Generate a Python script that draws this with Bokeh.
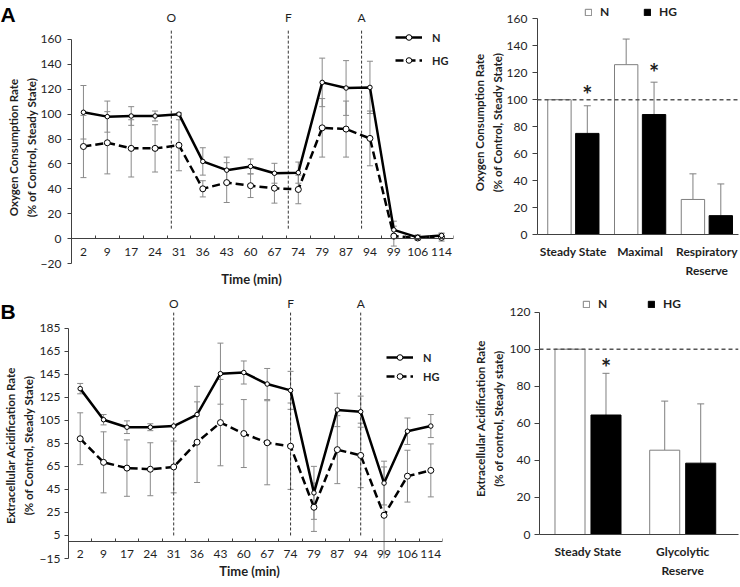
from bokeh.plotting import figure
from bokeh.models import (ColumnDataSource, Range1d, FixedTicker, Whisker, TeeHead,
                          Span, Legend, LegendItem, GridBox)
from bokeh.embed import file_html
from bokeh.resources import INLINE
from bokeh.transform import dodge
from bokeh.core.properties import value
import math

# ---------------- data ----------------
times = ["2", "9", "17", "24", "31", "36", "43", "60", "67", "74", "79", "87", "94", "99", "106", "114"]

ocr_n = [101.5, 98, 98.5, 98.5, 100, 62, 55, 58, 52.5, 53, 125.5, 121, 121.5, 7, 1, 2.5]
ocr_n_err = [21.5, 12.5, 7.5, 4, 1, 11, 10.5, 6, 8, 8.5, 19.5, 22, 21, 7, 2, 2]
ocr_hg = [74, 77, 72.5, 72.5, 75, 40, 45, 42.5, 40.5, 39.5, 89, 88, 80.5, 2, 0.5, 1]
ocr_hg_err = [25, 25, 23, 19, 20.5, 6.5, 16, 9.5, 12, 11.5, 23.5, 22.5, 22, 8, 1.5, 3]

ecar_n = [132.5, 105.5, 99, 99, 100, 110, 145.5, 146.5, 136.5, 131, 42, 114, 112.5, 50.5, 95.5, 100]
ecar_n_err = [4.5, 4.5, 5.5, 3, 0.5, 24.5, 26.5, 10, 13.5, 16.5, 23, 14.5, 13.5, 19, 11.5, 10]
ecar_hg = [89, 68.5, 63.5, 62.5, 64.5, 86, 103, 93.5, 85.5, 82.5, 29.5, 79.5, 74.5, 22.5, 56.5, 61.5]
ecar_hg_err = [22.5, 26.5, 24.5, 23, 22.5, 35, 37.5, 29.5, 36.5, 37.5, 21, 29.5, 28, 42, 22.5, 23]

event_labels = ["O", "F", "A"]
ocr_event_x = [4.18, 9.08, 12.15]      # position on the category axis
ecar_event_x = [4.5, 9.5, 12.5]

ocr_yticks = [-20, 0, 20, 40, 60, 80, 100, 120, 140, 160]
ecar_yticks = [-15, 5, 25, 45, 65, 85, 105, 125, 145, 165, 185]

ocr_groups = ["Steady State", "Maximal", "Respiratory\nReserve"]
ocr_bar_n = [100, 126, 26]
ocr_bar_n_err = [0, 19, 19]
ocr_bar_hg = [75, 89, 14]
ocr_bar_hg_err = [20.5, 24, 23.5]
ocr_star_idx = [0, 1]
ocr_star_y = [103.5, 120.5]
ocr_bar_yticks = [0, 20, 40, 60, 80, 100, 120, 140, 160]

ecar_groups = ["Steady State", "Glycolytic\nReserve"]
ecar_bar_n = [100, 45.5]
ecar_bar_n_err = [0, 26.5]
ecar_bar_hg = [64.5, 38.5]
ecar_bar_hg_err = [22.5, 32]
ecar_star_idx = [0]
ecar_star_y = [90]
ecar_bar_yticks = [0, 20, 40, 60, 80, 100, 120]

# page-level texts (panel letters, axis titles), placed in page pixels
panel_letters = ["A", "B"]
panel_letter_x = [0, 0]
panel_letter_y = [14, 311]
xtitle_text = ["Time (min)", "Time (min)"]
xtitle_x = [251, 249]
xtitle_y = [278, 570]
ytitle_text = ["Oxygen Consumption Rate\n(% of Control, Steady State)",
               "Extracellular Acidification Rate\n(% of Control, Steady State)",
               "Oxygen Consumption Rate\n(% of Control, Steady State)",
               "Extracellular Acidification Rate\n(% of control, Steady state)"]
ytitle_x = [22, 19, 488, 489]
ytitle_y = [147, 445, 122, 418]

# ---------------- style ----------------
FONT = "Lato"
TXT = "#1f1f1f"
AXC = "#404040"
ERR = "#8a8a8a"


def base_fig(width, height, bl, br, bt, bb, xr, yr):
    p = figure(width=width, height=height, x_range=xr, y_range=yr,
               output_backend="svg", toolbar_location=None,
               min_border_left=bl, min_border_right=br,
               min_border_top=bt, min_border_bottom=bb)
    p.outline_line_color = None
    p.xgrid.visible = False
    p.ygrid.visible = False
    p.background_fill_color = "white"
    p.border_fill_color = "white"
    if "frame_align" in p.properties():
        p.frame_align = False
    return p


def style_yaxis(p, ticks, tick_out, std):
    ax = p.yaxis[0]
    ax.ticker = FixedTicker(ticks=ticks, minor_ticks=[])
    ax.bounds = (ticks[0], ticks[-1])
    ax.axis_line_color = AXC
    ax.major_tick_line_color = AXC
    ax.major_tick_out = tick_out
    ax.major_tick_in = 0
    ax.minor_tick_line_color = None
    ax.major_label_text_font = FONT
    ax.major_label_text_font_size = "12px"
    ax.major_label_text_color = TXT
    ax.major_label_standoff = std


def line_panel(width, height, bl, br, bt, bb, yr, yticks, n, n_err, hg, hg_err,
               ev_x, ev_y0, ev_y1, ev_label_y, legend_loc, legend_spacing, std, ystd):
    nx = len(times)
    xs = [i + 0.5 for i in range(nx)]
    p = base_fig(width, height, bl, br, bt, bb, Range1d(0, nx), Range1d(*yr))
    style_yaxis(p, yticks, 4, ystd)

    xa = p.xaxis[0]
    xa.fixed_location = 0
    xa.ticker = FixedTicker(ticks=xs, minor_ticks=[i for i in range(1, nx + 1)])
    xa.major_label_overrides = {x: t for x, t in zip(xs, times)}
    xa.axis_line_color = AXC
    xa.major_tick_line_color = None
    xa.major_tick_out = 0
    xa.major_tick_in = 0
    xa.minor_tick_line_color = AXC
    xa.minor_tick_in = 3
    xa.minor_tick_out = 0
    xa.major_label_text_font = FONT
    xa.major_label_text_font_size = "12px"
    xa.major_label_text_color = TXT
    xa.major_label_standoff = std

    src = ColumnDataSource(dict(
        x=xs, n=n, hg=hg,
        n_lo=[a - b for a, b in zip(n, n_err)], n_hi=[a + b for a, b in zip(n, n_err)],
        hg_lo=[a - b for a, b in zip(hg, hg_err)], hg_hi=[a + b for a, b in zip(hg, hg_err)]))

    for lo, hi in (("hg_lo", "hg_hi"), ("n_lo", "n_hi")):
        w = Whisker(base="x", lower=lo, upper=hi, source=src, line_color=ERR, line_width=1,
                    upper_head=TeeHead(size=6, line_color=ERR, line_width=1),
                    lower_head=TeeHead(size=6, line_color=ERR, line_width=1))
        p.add_layout(w)

    esrc = ColumnDataSource(dict(x=ev_x, y0=[ev_y0] * len(ev_x), y1=[ev_y1] * len(ev_x),
                                 ly=[ev_label_y] * len(ev_x), t=event_labels))
    p.segment(x0="x", y0="y0", x1="x", y1="y1", source=esrc, line_color="#333333",
              line_width=1, line_dash="3 2")
    p.text(x="x", y="ly", text="t", source=esrc, text_font=value(FONT), text_font_size="12px",
           text_align="center", text_baseline="middle", text_color=TXT)

    lh = p.line("x", "hg", source=src, line_color="black", line_width=2.5, line_dash="8 4")
    sh = p.scatter("x", "hg", source=src, marker="circle", size=6, fill_color="white",
                   line_color="black", line_width=1)
    ln = p.line("x", "n", source=src, line_color="black", line_width=2.5)
    sn = p.scatter("x", "n", source=src, marker="circle", size=4.5, fill_color="white",
                   line_color="black", line_width=1)

    leg = Legend(items=[LegendItem(label="N", renderers=[ln, sn]),
                        LegendItem(label="HG", renderers=[lh, sh])],
                 location=legend_loc, orientation="vertical", glyph_width=27, glyph_height=14,
                 label_height=14, label_standoff=10, spacing=legend_spacing, padding=0, margin=0,
                 border_line_alpha=0, background_fill_alpha=0, label_text_font=FONT,
                 label_text_font_size="11px", label_text_font_style="bold",
                 label_text_color=TXT)
    p.add_layout(leg)
    return p


def bar_panel(width, height, bl, br, bt, bb, xr, ymax, yticks, groups, n, n_err, hg, hg_err,
              star_idx, star_y, legend_loc, legend_spacing, bw, off_n, off_h, ystd):
    xs = [i + 0.5 for i in range(len(groups))]
    p = base_fig(width, height, bl, br, bt, bb, Range1d(*xr), Range1d(0, ymax))
    style_yaxis(p, yticks, 5, ystd)

    xa = p.xaxis[0]
    xa.ticker = FixedTicker(ticks=xs, minor_ticks=[])
    xa.major_label_overrides = {x: g for x, g in zip(xs, groups)}
    xa.axis_line_color = AXC
    xa.major_tick_line_color = None
    xa.minor_tick_line_color = None
    xa.major_tick_out = 0
    xa.major_tick_in = 0
    xa.major_label_text_font = FONT
    xa.major_label_text_font_size = "12px"
    xa.major_label_text_font_style = "bold"
    xa.major_label_text_color = TXT
    xa.major_label_text_line_height = 1.3
    xa.major_label_standoff = 9

    src = ColumnDataSource(dict(
        x=xs, n=n, hg=hg,
        n_hi=[a + b for a, b in zip(n, n_err)],
        hg_hi=[a + b for a, b in zip(hg, hg_err)]))

    for key, hi, off in (("n", "n_hi", off_n), ("hg", "hg_hi", off_h)):
        w = Whisker(base=dodge("x", off, range=p.x_range), lower=key, upper=hi,
                    source=src, line_color="#7f7f7f", line_width=1,
                    upper_head=TeeHead(size=7, line_color="#7f7f7f", line_width=1),
                    lower_head=None)
        p.add_layout(w)

    rn = p.vbar(x=dodge("x", off_n, range=p.x_range), top="n", bottom=0, width=bw, source=src,
                fill_color="white", line_color="#7f7f7f", line_width=1)
    rh = p.vbar(x=dodge("x", off_h, range=p.x_range), top="hg", bottom=0, width=bw, source=src,
                fill_color="black", line_color="black", line_width=1)

    p.add_layout(Span(location=100, dimension="width", line_color="#555555", line_width=1.5,
                      line_dash="4 3"))

    ssrc = ColumnDataSource(dict(x=[xs[i] for i in star_idx], y=star_y,
                                 t=["*"] * len(star_idx)))
    p.text(x=dodge("x", off_h, range=p.x_range), y="y", text="t", source=ssrc,
           text_font=value(FONT), text_font_size="24px", text_font_style="bold",
           text_align="center", text_baseline="middle", text_color=TXT)

    leg = Legend(items=[LegendItem(label="N", renderers=[rn]),
                        LegendItem(label="HG", renderers=[rh])],
                 location=legend_loc, orientation="horizontal", glyph_width=8, glyph_height=8,
                 label_height=12, label_standoff=8, spacing=legend_spacing, padding=0, margin=0,
                 border_line_alpha=0, background_fill_alpha=0, label_text_font=FONT,
                 label_text_font_size="12px", label_text_font_style="bold",
                 label_text_color=TXT)
    p.add_layout(leg)
    return p


a_left = line_panel(470, 290, 71, 17, 0, 27, (-20, 191.3), ocr_yticks,
                    ocr_n, ocr_n_err, ocr_hg, ocr_hg_err,
                    ocr_event_x, 8, 168.5, 177.5, (324, 196), 9, 9, 6)

b_left = line_panel(470, 297, 68, 28, 0, 29, (-15, 217.7), ecar_yticks,
                    ecar_n, ecar_n_err, ecar_hg, ecar_hg_err,
                    ecar_event_x, 5, 198.5, 206, (318, 175), 5, 9, 4)

a_right = bar_panel(270, 290, 67, 2, 0, 56, (-0.036, 2.975), 173.6, ocr_bar_yticks,
                    ocr_groups, ocr_bar_n, ocr_bar_n_err, ocr_bar_hg, ocr_bar_hg_err,
                    ocr_star_idx, ocr_star_y, (47, 215), 23, 0.35, -0.2075, 0.21, 5)

b_right = bar_panel(270, 297, 69, 2, 0, 53, (-0.012, 2.089), 131.7, ecar_bar_yticks,
                    ecar_groups, ecar_bar_n, ecar_bar_n_err, ecar_bar_hg, ecar_bar_hg_err,
                    ecar_star_idx, ecar_star_y, (43, 223), 29, 0.317, -0.19, 0.19, 4)

# transparent overlay carrying the page-level texts
overlay = figure(width=740, height=587, x_range=Range1d(0, 740), y_range=Range1d(587, 0),
                 x_axis_type=None, y_axis_type=None, output_backend="svg",
                 toolbar_location=None, min_border_left=0, min_border_right=0,
                 min_border_top=0, min_border_bottom=0)
overlay.outline_line_color = None
overlay.background_fill_color = None
overlay.border_fill_color = None
overlay.xgrid.visible = False
overlay.ygrid.visible = False
if "frame_align" in overlay.properties():
    overlay.frame_align = False
overlay.text(x=panel_letter_x, y=panel_letter_y, text=panel_letters,
             text_font=value("Liberation Sans"), text_font_size="21px",
             text_font_style="bold", text_color="black", text_align="left",
             text_baseline="alphabetic")
overlay.text(x=xtitle_x, y=xtitle_y, text=xtitle_text, text_font=value(FONT),
             text_font_size="13px", text_font_style="bold", text_color=TXT,
             text_align="center", text_baseline="middle")
overlay.text(x=ytitle_x, y=ytitle_y, text=ytitle_text, angle=math.pi / 2,
             text_font=value(FONT), text_font_size="11.5px", text_font_style="bold",
             text_color=TXT, text_align="center", text_baseline="middle",
             text_line_height=1.4)

layout = GridBox(children=[(a_left, 0, 0), (a_right, 0, 1), (b_left, 1, 0), (b_right, 1, 1),
                           (overlay, 0, 0, 2, 2)], spacing=0)
open("out.html", "w").write(file_html(layout, INLINE))
